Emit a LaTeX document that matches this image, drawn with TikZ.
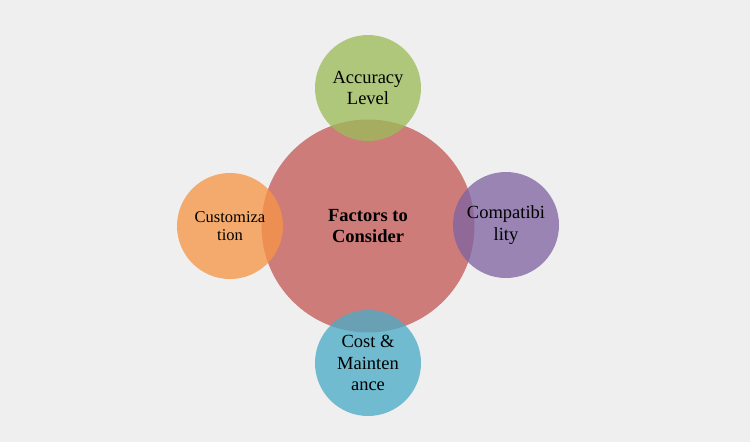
\documentclass[tikz,border=0pt]{standalone}
\usepackage{fontspec}
\setmainfont{Liberation Serif}
\definecolor{bg}{HTML}{EFEFEF}
\definecolor{cred}{HTML}{C0504D}
\definecolor{cgreen}{HTML}{9BBB59}
\definecolor{corange}{HTML}{F79646}
\definecolor{cpurple}{HTML}{8064A2}
\definecolor{cblue}{HTML}{4BACC6}
\tikzset{
  bubble/.style={circle, inner sep=0pt, draw=none, fill opacity=0.77, text opacity=1,
    align=center, text=black, font=\fontsize{18.5}{21.5}\selectfont},
  small/.style={minimum size=106pt},
  big/.style={minimum size=213pt}
}
\begin{document}
\begin{tikzpicture}[x=1pt,y=-1pt]
\fill[bg] (0,0) rectangle (750,442);
\useasboundingbox (0,0) rectangle (750,442);
\node[bubble, big, fill=cred, fill opacity=0.72, font=\fontsize{18.5}{21.5}\selectfont\bfseries] (center) at (368,226) {Factors to\\Consider};
\node[bubble, small, fill=cgreen] (acc) at (368,88) {Accuracy\\Level};
\node[bubble, small, fill=corange, font=\fontsize{16.5}{18.5}\selectfont] (cust) at (230,226) {Customiza\\tion};
\node[bubble, small, fill=cpurple] (comp) at (506,225) {Compatibi\\lity};
\node[bubble, small, fill=cblue] (cost) at (368,363) {Cost \&\\Mainten\\ance};
\end{tikzpicture}
\end{document}
